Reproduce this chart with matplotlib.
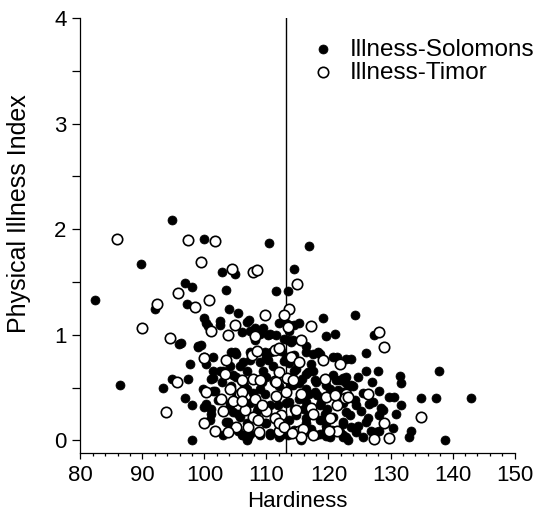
import numpy as np
import matplotlib
matplotlib.use("Agg")
import matplotlib.pyplot as plt
from matplotlib.ticker import MultipleLocator, FixedLocator

plt.rcParams['font.family'] = ['Liberation Sans', 'DejaVu Sans']

# Illness-Solomons (filled markers)
solomons_x = [
    82.4, 86.4, 89.7, 94.8, 99.9, 96.8, 98.0, 92.0, 97.2, 99.9, 100.5, 95.9, 98.9, 97.6, 100.2,
    93.3, 94.8, 97.4, 100.3, 96.8, 98.0, 100.2, 98.0,
    110.4, 116.8, 102.8, 105.0, 103.4, 111.6, 113.4, 114.4, 103.9, 105.4, 119.1, 102.5, 107.2, 124.2,
    127.3, 126.0, 123.6, 118.3, 121.3, 114.5, 113.7, 116.4,
    126.0, 128.0, 137.8, 131.6, 131.7, 128.2, 129.8, 130.6, 134.9, 137.4, 142.9, 131.7, 130.9, 130.4,
    133.3, 132.9, 138.8, 122.3,
    122.3, 123.9, 122.3, 124.5, 127.1, 128.8, 126.3, 128.2, 126.6, 128.5, 128.2, 126.9,
    100.3, 102.5, 106.8, 107.3, 109.4, 110.5, 112.1, 113.7, 114.0, 112.9, 115.3, 119.6, 121.0,
    99.5, 104.3, 105.1, 107.3, 110.0, 112.4, 113.2, 114.5, 116.4, 117.5, 118.6, 120.7, 122.9,
    101.4, 102.5, 104.1, 105.1, 106.8, 109.4, 110.0, 113.7, 114.5, 116.4, 117.5, 117.8, 120.7, 122.9, 121.8,
    99.8, 101.4, 102.2, 104.3, 105.1, 106.8, 108.9, 109.7, 112.1, 114.0, 115.3, 116.4, 117.8, 120.2, 122.3, 123.1,
    100.0, 101.1, 104.1, 104.6, 105.7, 107.3, 108.6, 110.5, 111.3, 113.2, 113.7, 116.4, 116.9, 118.6, 119.4, 120.7, 122.9,
    100.9, 103.5, 104.1, 106.8, 107.3, 109.7, 110.5, 112.7, 113.5, 114.5, 116.4, 119.1, 119.6, 122.3, 122.9,
    108.1, 108.9, 110.2, 113.2, 113.5, 114.3, 99.0, 96.3, 100.0, 101.4, 104.9, 106.2, 109.7, 110.8,
    107.3, 108.9, 110.2,
    101.4, 103.0, 101.7, 101.1, 104.1, 105.4, 113.2, 114.3, 113.7, 114.5, 103.8, 105.4, 107.0, 106.0,
    110.0, 110.5, 112.1, 108.4, 110.0,
    114.8, 116.7, 118.0, 119.6, 121.2, 122.6, 123.7, 115.3, 116.9, 118.8, 121.8, 124.2, 125.3, 114.8,
    116.4, 118.6, 119.6, 122.3, 123.7, 124.5, 126.1, 116.9, 120.2, 121.8, 123.1, 125.5, 127.7,
    106.2, 106.8, 110.5, 112.3, 115.5, 117.2, 118.7, 119.6, 122.3, 124.8,
    101.0, 102.8, 104.6, 106.4, 107.9, 109.3, 111.0, 112.8, 115.8, 117.2, 118.2, 119.8, 120.6, 121.5,
    123.4, 124.8, 125.6, 127.0, 103.0, 109.0, 111.8, 116.0, 118.0, 105.8, 108.2, 111.5, 106.0,
]
solomons_y = [
    1.33, 0.52, 1.67, 2.09, 1.91, 1.49, 1.45, 1.24, 1.29, 1.16, 1.08, 0.91, 0.89, 0.72, 0.72,
    0.50, 0.58, 0.58, 0.46, 0.40, 0.33, 0.34, 0.00,
    1.87, 1.84, 1.59, 1.58, 1.42, 1.41, 1.41, 1.62, 1.24, 1.21, 1.16, 1.13, 1.14, 1.19,
    1.00, 0.83, 0.77, 0.84, 0.79, 1.09, 1.09, 0.84,
    0.66, 0.66, 0.66, 0.61, 0.54, 0.47, 0.41, 0.41, 0.40, 0.40, 0.40, 0.33, 0.25, 0.12,
    0.09, 0.03, 0.00, 0.03,
    0.59, 0.51, 0.35, 0.33, 0.36, 0.29, 0.21, 0.09, 0.34, 0.31, 0.24, 0.09,
    1.11, 1.09, 1.12, 1.04, 1.06, 1.01, 1.11, 1.04, 0.93, 0.96, 1.11, 0.99, 1.01,
    0.90, 0.84, 0.82, 0.84, 0.79, 0.85, 0.79, 0.81, 0.89, 0.82, 0.82, 0.79, 0.77,
    0.59, 0.66, 0.70, 0.60, 0.66, 0.66, 0.60, 0.73, 0.66, 0.63, 0.66, 0.57, 0.62, 0.60, 0.57,
    0.49, 0.47, 0.38, 0.51, 0.41, 0.49, 0.49, 0.44, 0.51, 0.52, 0.54, 0.49, 0.46, 0.49, 0.46, 0.51,
    0.32, 0.25, 0.35, 0.27, 0.22, 0.35, 0.31, 0.33, 0.22, 0.35, 0.19, 0.36, 0.24, 0.33, 0.25, 0.22, 0.27,
    0.19, 0.17, 0.10, 0.16, 0.06, 0.16, 0.06, 0.13, 0.05, 0.10, 0.16, 0.19, 0.10, 0.15, 0.03,
    1.06, 1.01, 1.00, 1.11, 0.95, 0.95, 0.88, 0.92, 0.79, 0.79, 0.84, 0.74, 0.84, 0.84,
    0.76, 0.74, 0.76,
    0.66, 0.66, 0.47, 0.58, 0.33, 0.25, 0.58, 0.52, 0.36, 0.30, 0.17, 0.09, 0.03, 0.05,
    0.16, 0.05, 0.03, 0.28, 0.28,
    0.68, 0.65, 0.55, 0.52, 0.57, 0.55, 0.52, 0.39, 0.44, 0.36, 0.35, 0.38, 0.28, 0.24,
    0.21, 0.19, 0.14, 0.17, 0.13, 0.08, 0.17, 0.08, 0.03, 0.08, 0.00, 0.03, 0.08,
    0.05, 0.00, 0.07, 0.05, 0.00, 0.11, 0.06, 0.04, 0.05, 0.14,
    0.30, 0.55, 0.62, 0.52, 0.45, 0.55, 0.70, 0.75, 0.58, 0.72, 0.43, 0.30, 0.10, 0.48,
    0.24, 0.60, 0.45, 0.55, 0.05, 0.05, 0.33, 0.30, 0.05, 0.70, 0.95, 1.00, 1.03,
]

# Illness-Timor (open markers)
timor_x = [
    85.9, 97.4, 99.5, 95.7, 92.3, 98.4, 100.8, 89.9, 94.4, 100.0, 95.6, 93.8, 99.9,
    101.7, 104.4, 107.8, 108.5, 114.9, 109.7, 113.7, 112.9, 104.9, 117.2,
    128.2, 128.9, 119.1, 121.8, 115.5, 114.0, 115.2,
    126.3, 122.9, 134.9, 128.9, 127.3, 129.7,
    101.1, 103.8, 108.1, 107.6, 108.4, 111.3, 103.3, 106.0, 107.8, 111.3, 112.1, 113.3, 119.4,
    100.3, 102.7, 105.7, 108.1, 111.6, 113.2, 115.6, 117.2, 119.6, 122.6, 121.3, 103.0, 106.5,
    110.0, 112.4, 114.8, 107.8, 101.7, 105.1, 108.8, 112.1, 115.3, 117.5, 121.3, 113.5,
    112.1, 103.5,
    104.1, 106.0, 104.6, 106.0, 109.2, 111.6, 111.3, 112.1, 112.9, 107.0, 108.9, 108.6,
    121.0, 123.1, 117.5, 120.2, 115.9, 115.6, 114.3,
    103.8, 114.1, 120.1,
]
timor_y = [
    1.91, 1.90, 1.69, 1.40, 1.29, 1.26, 1.33, 1.06, 0.97, 0.78, 0.55, 0.27, 0.16,
    1.89, 1.62, 1.59, 1.61, 1.48, 1.19, 1.24, 1.19, 1.09, 1.08,
    1.03, 0.88, 0.76, 0.72, 0.95, 0.79, 0.74,
    0.44, 0.44, 0.22, 0.16, 0.01, 0.02,
    1.04, 1.00, 0.99, 0.81, 0.85, 0.86, 0.63, 0.57, 0.58, 0.56, 0.65, 0.59, 0.58,
    0.46, 0.39, 0.44, 0.39, 0.42, 0.46, 0.44, 0.31, 0.41, 0.40, 0.33, 0.28, 0.29,
    0.28, 0.24, 0.29, 0.22, 0.09, 0.13, 0.08, 0.09, 0.09, 0.05, 0.09, 1.07,
    0.87, 0.76,
    0.49, 0.46, 0.37, 0.37, 0.33, 0.55, 0.21, 0.16, 0.13, 0.13, 0.57, 0.19,
    0.43, 0.41, 0.25, 0.21, 0.11, 0.03, 0.57,
    0.08, 0.07, 0.09,
]

cutoff = 113.1  # vertical reference line on Hardiness

fig = plt.figure(figsize=(5.36, 5.21), dpi=100)
ax = fig.add_axes([0.150, 0.1305, 0.810, 0.835])

ax.scatter(solomons_x, solomons_y, s=42, c='black', edgecolors='black', linewidths=0.5,
           label='Illness-Solomons', zorder=3)
ax.scatter(timor_x, timor_y, s=56, facecolors='white', edgecolors='black', linewidths=1.2,
           label='Illness-Timor', zorder=4)
ax.axvline(cutoff, color='black', lw=1.0, zorder=2)

ax.set_xlim(80, 150)
ax.set_ylim(-0.12, 4)
ax.spines['top'].set_visible(False)
ax.spines['right'].set_visible(False)
for s in ['left', 'bottom']:
    ax.spines[s].set_linewidth(0.9)

ax.xaxis.set_major_locator(MultipleLocator(10))
ax.xaxis.set_minor_locator(MultipleLocator(2))
ax.yaxis.set_major_locator(FixedLocator(np.arange(0, 4.01, 0.5)))
ax.set_yticklabels(['0', '', '1', '', '2', '', '3', '', '4'])
ax.tick_params(axis='x', which='major', direction='out', length=4.5, width=0.9, labelsize=16, pad=4)
ax.tick_params(axis='x', which='minor', direction='out', length=2.5, width=0.9)
ax.tick_params(axis='y', direction='out', length=6, width=0.9, labelsize=16, pad=4)

ax.set_xlabel('Hardiness', fontsize=16, labelpad=4)
ax.set_ylabel('Physical Illness Index', fontsize=18)
ax.yaxis.set_label_coords(-0.113, 0.55)

ax.legend(loc='upper left', bbox_to_anchor=(0.508, 0.975), frameon=False, fontsize=17.5,
          scatterpoints=1, handlelength=1.0, handletextpad=0.6, labelspacing=0.05,
          borderaxespad=0)

fig.savefig('out.png', dpi=100)
